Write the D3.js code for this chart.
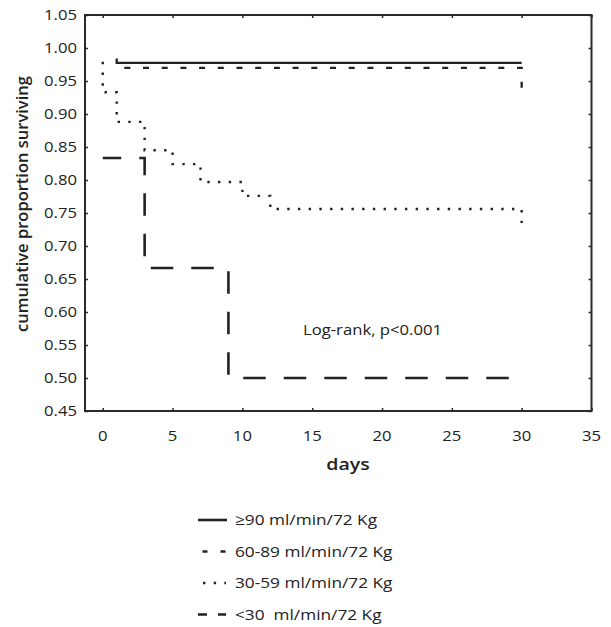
<!DOCTYPE html>
<html>
<head>
<meta charset="utf-8">
<script src="https://cdn.jsdelivr.net/npm/d3@7"></script>
<style>
  body { margin: 0; background: #fff; }
  text { font-family: "Open Sans", sans-serif; fill: #222; }
</style>
</head>
<body>
<div id="chart"></div>
<script>
// survival steps, [day, proportion]
var ge90 = [[1, 0.984], [1, 0.9775], [30, 0.9775]];
var s60to89 = [[1, 0.970], [30, 0.970], [30, 0.939]];
var s30to59 = [[0, 0.979], [0, 0.933], [1, 0.933], [1, 0.888], [3, 0.888], [3, 0.845],
  [5, 0.845], [5, 0.824], [7, 0.824], [7, 0.797], [10, 0.797], [10, 0.776],
  [12, 0.776], [12, 0.756], [30, 0.756], [30, 0.724]];
var lt30 = [[0, 0.8333], [3, 0.8333], [3, 0.6667], [9, 0.6667], [9, 0.5], [30, 0.5]];

var xTicks = [0, 5, 10, 15, 20, 25, 30, 35];
var yTicks = [0.45, 0.50, 0.55, 0.60, 0.65, 0.70, 0.75, 0.80, 0.85, 0.90, 0.95, 1.00, 1.05];
var legendLabels = ["\u226590 ml/min/72 Kg", "60-89 ml/min/72 Kg", "30-59 ml/min/72 Kg", "<30\u00a0 ml/min/72 Kg"];

var width = 611, height = 627;
var stretch = 1.15; // the original picture is a bit wider than tall

var svg = d3.select("#chart").append("svg")
  .attr("width", width)
  .attr("height", height);

var x = d3.scaleLinear().domain([-1.27, 35]).range([85, 591.5]);
var y = d3.scaleLinear().domain([0.45, 1.05]).range([411, 15]);

function place(px, py) {
  return "translate(" + px + "," + py + ") scale(" + stretch + ",1)";
}

// frame
svg.append("rect")
  .attr("x", x(-1.27)).attr("y", y(1.05))
  .attr("width", x(35) - x(-1.27)).attr("height", y(0.45) - y(1.05))
  .attr("fill", "none").attr("stroke", "#2a2a2a").attr("stroke-width", 2);

// inside ticks on all sides
svg.append("g").attr("transform", "translate(0," + y(0.45) + ")")
  .call(d3.axisBottom(x).tickValues(xTicks).tickSize(-3).tickFormat(""))
  .call(g => g.select(".domain").remove());
svg.append("g").attr("transform", "translate(0," + y(1.05) + ")")
  .call(d3.axisTop(x).tickValues(xTicks).tickSize(-3).tickFormat(""))
  .call(g => g.select(".domain").remove());
svg.append("g").attr("transform", "translate(" + x(-1.27) + ",0)")
  .call(d3.axisLeft(y).tickValues(yTicks).tickSize(-3).tickFormat(""))
  .call(g => g.select(".domain").remove());
svg.append("g").attr("transform", "translate(" + x(35) + ",0)")
  .call(d3.axisRight(y).tickValues(yTicks).tickSize(-3).tickFormat(""))
  .call(g => g.select(".domain").remove());
svg.selectAll(".tick line").attr("stroke", "#2a2a2a").attr("stroke-width", 1.5);

// tick labels
svg.selectAll(".xlab").data(xTicks).enter().append("text")
  .attr("transform", d => place(x(d), 441))
  .attr("text-anchor", "middle").attr("font-size", 14.5)
  .text(d => d);
svg.selectAll(".ylab").data(yTicks).enter().append("text")
  .attr("transform", d => place(77, y(d)))
  .attr("dy", "0.35em")
  .attr("text-anchor", "end").attr("font-size", 14.5)
  .text(d => d3.format(".2f")(d));

// axis titles
svg.append("text").attr("transform", place(348, 470))
  .attr("text-anchor", "middle").attr("font-size", 17).attr("font-weight", 600)
  .text("days");
svg.append("text").attr("transform", "translate(28,204) rotate(-90)")
  .attr("text-anchor", "middle").attr("font-size", 16.5).attr("font-weight", 600)
  .text("cumulative proportion surviving");

svg.append("text").attr("transform", place(303, 335)).attr("font-size", 14.5)
  .text("Log-rank, p<0.001");

// curves
var line = d3.line().x(d => x(d[0])).y(d => y(d[1]));
var styles = [
  {data: ge90, dash: null, w: 2.3, off: 0},
  {data: s60to89, dash: "6,12.7", w: 2.3, off: 11.1},
  {data: s30to59, dash: "2.4,8.3", w: 2.4, off: 0},
  {data: lt30, dash: "22.5,18", w: 2.6, off: 4}
];
styles.forEach(function(s) {
  svg.append("path").datum(s.data)
    .attr("d", line)
    .attr("fill", "none")
    .attr("stroke", "#222")
    .attr("stroke-width", s.w)
    .attr("stroke-dasharray", s.dash)
    .attr("stroke-dashoffset", s.off);
});

// legend
var legendSamples = [
  {x1: 198, x2: 227, dash: null},
  {x1: 202.5, x2: 226, dash: "5,13"},
  {x1: 203, x2: 226, dash: "2.4,8.3"},
  {x1: 198, x2: 226, dash: "9,11"}
];
var legend = svg.selectAll(".leg").data(legendLabels).enter().append("g")
  .attr("transform", (d, i) => "translate(0," + (520 + i * 31.5) + ")");
legend.append("line")
  .attr("x1", (d, i) => legendSamples[i].x1).attr("x2", (d, i) => legendSamples[i].x2)
  .attr("stroke", "#222").attr("stroke-width", 2.6)
  .attr("stroke-dasharray", (d, i) => legendSamples[i].dash);
legend.append("text").attr("transform", place(235, 0))
  .attr("dy", "0.35em").attr("font-size", 15)
  .text(d => d);
</script>
</body>
</html>
